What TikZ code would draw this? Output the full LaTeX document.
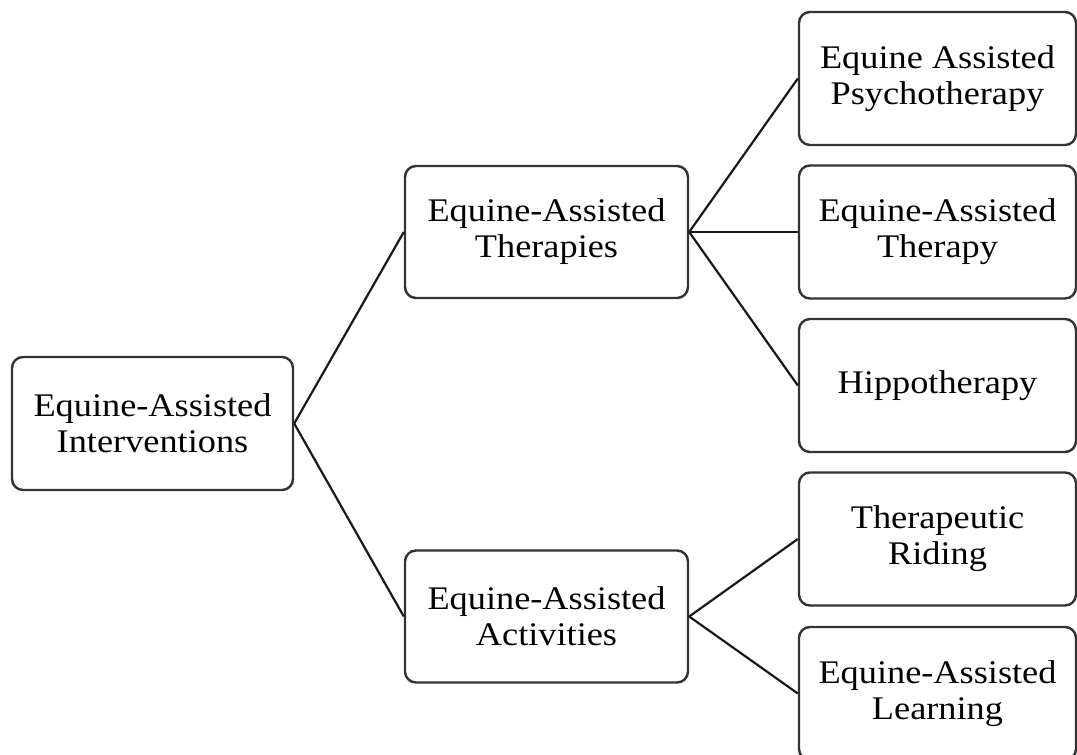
\documentclass[tikz,border=0pt]{standalone}
\usepackage{fontspec}
\setmainfont[FakeStretch=1.10]{Liberation Serif}
\begin{document}
\begin{tikzpicture}[x=1pt,y=-1pt,
  box/.style={draw=black!80, line width=2.4pt, rounded corners=11pt, fill=white,
    align=center, inner sep=0pt, font=\fontsize{33}{36}\selectfont},
  midbox/.style={box, minimum width=283pt, minimum height=132pt},
  leafbox/.style={box, minimum width=277pt, minimum height=133pt},
  link/.style={draw=black!90, line width=2.2pt}]
\useasboundingbox (0,0) rectangle (1077,755);
\node[box, minimum width=281pt, minimum height=133pt] (eai) at (152.5,423.5) {Equine-Assisted\\Interventions};
\node[midbox] (eat) at (546.5,232) {Equine-Assisted\\Therapies};
\node[midbox] (eaa) at (546.5,616.5) {Equine-Assisted\\Activities};
\node[leafbox] (eap) at (937.5,78.5) {Equine Assisted\\Psychotherapy};
\node[leafbox] (eath) at (937.5,232) {Equine-Assisted\\Therapy};
\node[leafbox] (hip) at (937.5,385.5) {Hippotherapy};
\node[leafbox] (tr) at (937.5,539) {Therapeutic\\Riding};
\node[leafbox] (eal) at (937.5,693.5) {Equine-Assisted\\Learning};
\draw[link] (eai.east) -- (eat.west);
\draw[link] (eai.east) -- (eaa.west);
\draw[link] (eat.east) -- (eap.west);
\draw[link] (eat.east) -- (eath.west);
\draw[link] (eat.east) -- (hip.west);
\draw[link] (eaa.east) -- (tr.west);
\draw[link] (eaa.east) -- (eal.west);
\end{tikzpicture}
\end{document}
